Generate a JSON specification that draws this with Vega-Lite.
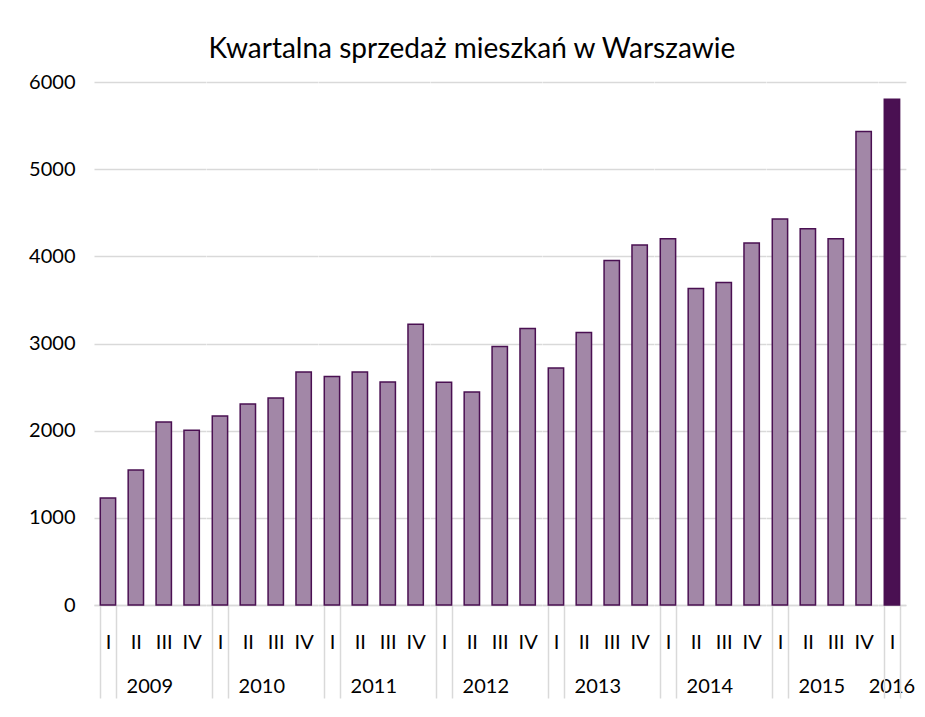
{
  "$schema": "https://vega.github.io/schema/vega-lite/v6.json",
  "background": "white",
  "padding": {"top": 36, "left": 28, "right": 5, "bottom": 5},
  "title": {
    "text": "Kwartalna sprzedaż mieszkań w Warszawie",
    "font": "Lato",
    "fontSize": 28,
    "fontWeight": "normal",
    "color": "#000000",
    "anchor": "middle",
    "frame": "bounds",
    "offset": 8
  },
  "data": {
    "values": [
      {"year": "2009", "q": "I", "value": 1227},
      {"year": "2009", "q": "II", "value": 1550},
      {"year": "2009", "q": "III", "value": 2100},
      {"year": "2009", "q": "IV", "value": 2005},
      {"year": "2010", "q": "I", "value": 2168},
      {"year": "2010", "q": "II", "value": 2305},
      {"year": "2010", "q": "III", "value": 2374},
      {"year": "2010", "q": "IV", "value": 2672},
      {"year": "2011", "q": "I", "value": 2622},
      {"year": "2011", "q": "II", "value": 2672},
      {"year": "2011", "q": "III", "value": 2557},
      {"year": "2011", "q": "IV", "value": 3221},
      {"year": "2012", "q": "I", "value": 2555},
      {"year": "2012", "q": "II", "value": 2444},
      {"year": "2012", "q": "III", "value": 2967},
      {"year": "2012", "q": "IV", "value": 3173},
      {"year": "2013", "q": "I", "value": 2719},
      {"year": "2013", "q": "II", "value": 3127},
      {"year": "2013", "q": "III", "value": 3951},
      {"year": "2013", "q": "IV", "value": 4130},
      {"year": "2014", "q": "I", "value": 4202},
      {"year": "2014", "q": "II", "value": 3630},
      {"year": "2014", "q": "III", "value": 3699},
      {"year": "2014", "q": "IV", "value": 4153},
      {"year": "2015", "q": "I", "value": 4428},
      {"year": "2015", "q": "II", "value": 4317},
      {"year": "2015", "q": "III", "value": 4202},
      {"year": "2015", "q": "IV", "value": 5432},
      {"year": "2016", "q": "I", "value": 5802}
    ]
  },
  "facet": {
    "column": {
      "field": "year",
      "type": "ordinal",
      "title": null,
      "header": {
        "labelOrient": "bottom",
        "labelFont": "Lato",
        "labelFontSize": 20,
        "labelColor": "#000000",
        "labelPadding": -22
      }
    }
  },
  "spacing": 0,
  "resolve": {"scale": {"x": "independent"}},
  "spec": {
    "width": {"step": 27.9},
    "height": 523,
    "mark": {"type": "bar", "strokeWidth": 1.5, "stroke": "#4a1052"},
    "encoding": {
      "x": {
        "field": "q",
        "type": "ordinal",
        "sort": ["I", "II", "III", "IV"],
        "scale": {"paddingInner": 0.45, "paddingOuter": 0.225},
        "axis": {
          "title": null,
          "labelAngle": 0,
          "labelFont": "Lato",
          "labelFontSize": 20,
          "labelColor": "#000000",
          "labelPadding": -66,
          "domainColor": "#d9d9d9",
          "domainWidth": 1.5,
          "tickBand": "extent",
          "tickSize": 93,
          "tickWidth": 1.5,
          "tickColor": {"condition": {"test": "datum.value === 'I' || datum.extra", "value": "#d9d9d9"}, "value": "transparent"}
        }
      },
      "y": {
        "field": "value",
        "type": "quantitative",
        "scale": {"domain": [0, 6000], "nice": false},
        "axis": {
          "title": null,
          "values": [0, 1000, 2000, 3000, 4000, 5000, 6000],
          "format": "d",
          "labelFont": "Lato",
          "labelFontSize": 20,
          "labelColor": "#000000",
          "labelPadding": 19,
          "ticks": false,
          "domain": false,
          "gridColor": "#d9d9d9",
          "gridWidth": 1.5
        }
      },
      "color": {
        "condition": {"test": "datum.year === '2016'", "value": "#4a1052"},
        "value": "#a287a7"
      }
    }
  },
  "config": {
    "view": {"stroke": null}
  }
}
